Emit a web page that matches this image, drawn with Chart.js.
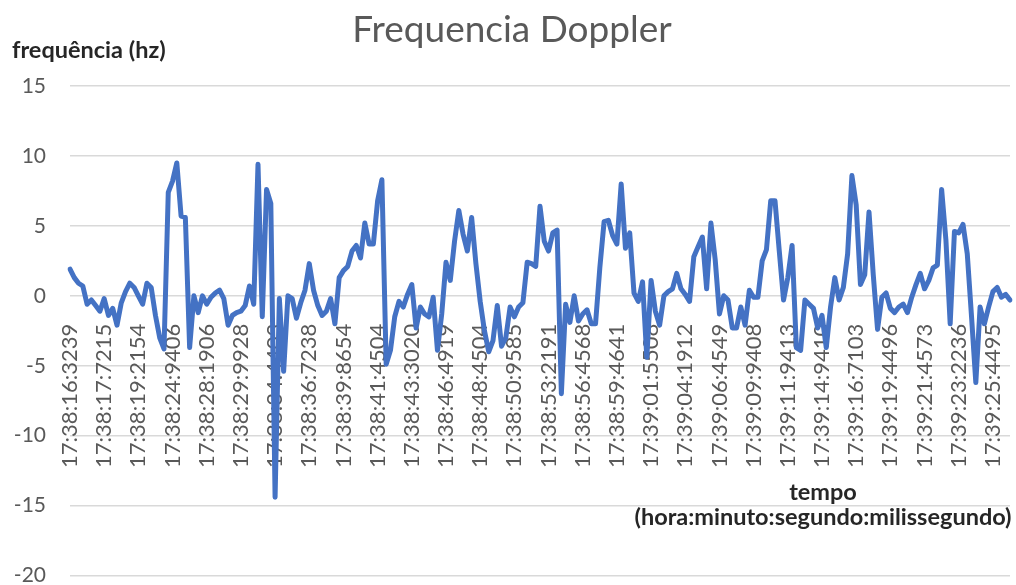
<!DOCTYPE html>
<html>
<head>
<meta charset="utf-8">
<title>Frequencia Doppler</title>
<script src="https://cdn.jsdelivr.net/npm/chart.js@4.4.0/dist/chart.umd.min.js"></script>
<style>
  html, body { margin: 0; padding: 0; background: #fff; }
  #wrap { width: 1016px; height: 585px; position: relative; }
</style>
</head>
<body>
<div id="wrap"><canvas id="dopplerChart"></canvas></div>
<script>
// Doppler frequency readings (hz), one per sample
const TIME_LABELS = [
  '17:38:16:3239', '17:38:17:7215', '17:38:19:2154', '17:38:24:9406', '17:38:28:1906',
  '17:38:29:9928', '17:38:34:4403', '17:38:36:7238', '17:38:39:8654', '17:38:41:4504',
  '17:38:43:3020', '17:38:46:4919', '17:38:48:4504', '17:38:50:9585', '17:38:53:2191',
  '17:38:56:4568', '17:38:59:4641', '17:39:01:5508', '17:39:04:1912', '17:39:06:4549',
  '17:39:09:9408', '17:39:11:9413', '17:39:14:9410', '17:39:16:7103', '17:39:19:4496',
  '17:39:21:4573', '17:39:23:2236', '17:39:25:4495'
];
// one time label is shown for every 8 samples
const SAMPLES_PER_LABEL = 8;

const FREQ_VALUES = [
  1.9, 1.3, 0.9, 0.7, -0.6, -0.3, -0.7, -1.1, -0.2, -1.4,
  -0.9, -2.1, -0.5, 0.3, 0.9, 0.6, 0.0, -0.6, 0.9, 0.6,
  -1.4, -3.0, -3.8, 7.4, 8.2, 9.5, 5.7, 5.6, -3.7, 0.0,
  -1.2, 0.0, -0.6, -0.1, 0.2, 0.4, -0.2, -2.1, -1.4, -1.2,
  -1.1, -0.7, 0.7, -0.6, 9.4, -1.5, 7.6, 6.6, -14.4, -0.2,
  -5.4, 0.0, -0.2, -1.6, -0.5, 0.4, 2.3, 0.4, -0.7, -1.4,
  -1.1, -0.2, -2.0, 1.3, 1.8, 2.1, 3.2, 3.6, 2.7, 5.2,
  3.7, 3.7, 6.8, 8.3, -4.9, -3.9, -1.5, -0.4, -0.8, 0.1,
  0.8, -2.3, -0.8, -1.3, -1.5, -0.1, -3.9, -1.3, 2.4, 1.1,
  3.9, 6.1, 4.4, 3.2, 5.6, 2.3, -0.4, -2.5, -4.0, -3.2,
  -0.7, -3.6, -3.0, -0.8, -1.5, -0.8, -0.5, 2.4, 2.3, 2.1,
  6.4, 3.9, 3.2, 4.5, 4.7, -7.0, -0.6, -1.9, 0.0, -1.8,
  -1.3, -1.0, -2.0, -2.0, 2.0, 5.3, 5.4, 4.3, 3.7, 8.0,
  3.4, 4.5, 0.2, -0.4, 1.0, -4.4, 1.1, -1.1, -2.1, 0.0,
  0.3, 0.5, 1.6, 0.5, 0.1, -0.4, 2.8, 3.5, 4.2, 0.5,
  5.2, 2.6, -1.3, 0.0, -0.3, -2.3, -2.3, -0.8, -2.1, 0.4,
  -0.1, -0.1, 2.5, 3.3, 6.8, 6.8, 3.2, -0.3, 1.3, 3.6,
  -3.7, -3.9, -0.3, -0.6, -0.9, -2.3, -1.4, -3.7, -0.8, 1.3,
  -0.3, 0.6, 3.0, 8.6, 6.5, 0.8, 1.5, 6.0, 1.5, -2.4,
  -0.1, 0.2, -0.9, -1.2, -0.8, -0.6, -1.2, -0.1, 0.8, 1.6,
  0.5, 1.1, 2.0, 2.2, 7.6, 4.0, -2.0, 4.6, 4.5, 5.1,
  3.0, -1.5, -6.2, -0.8, -2.0, -0.8, 0.3, 0.6, -0.1, 0.1,
  -0.3
];

const Y_MIN = -20;
const Y_MAX = 15;
const Y_STEP = 5;

const CHART_TITLE = 'Frequencia Doppler';
const Y_AXIS_NAME = 'frequência (hz)';
const X_AXIS_NAME = ['tempo', '(hora:minuto:segundo:milissegundo)'];

// ─── Axis names (Excel-style, horizontal) ───────────────────────────────────
const axisNames = {
  id: 'axisNames',
  afterDraw(chart) {
    const { ctx } = chart;
    ctx.save();
    ctx.font = 'bold 23.5px Lato';
    ctx.fillStyle = '#262626';
    ctx.textBaseline = 'middle';
    ctx.textAlign = 'left';
    ctx.fillText(Y_AXIS_NAME, 12, 50);
    ctx.textAlign = 'center';
    ctx.fillText(X_AXIS_NAME[0], 823, 492);
    ctx.fillText(X_AXIS_NAME[1], 823, 517);
    ctx.restore();
  }
};

function renderDoppler() {
  const ctx = document.getElementById('dopplerChart');
  // category per sample; only every SAMPLES_PER_LABEL-th sample carries a time
  const labels = FREQ_VALUES.map((_, i) =>
    i % SAMPLES_PER_LABEL === 0 ? (TIME_LABELS[i / SAMPLES_PER_LABEL] || '') : '');

  Chart.defaults.font.family = 'Lato, "Open Sans", sans-serif';

  new Chart(ctx, {
    type: 'line',
    data: {
      labels,
      datasets: [{
        label: 'frequência',
        data: FREQ_VALUES,
        borderColor: '#4472C4',
        borderWidth: 5,
        pointRadius: 0,
        tension: 0,
        borderJoinStyle: 'round',
        borderCapStyle: 'round',
      }],
    },
    options: {
      responsive: true,
      maintainAspectRatio: false,
      animation: false,
      devicePixelRatio: 1,
      layout: { padding: { top: 8, left: 14, right: 6, bottom: 0 } },
      plugins: {
        legend: { display: false },
        tooltip: { enabled: false },
        title: {
          display: true,
          text: CHART_TITLE,
          color: '#595959',
          font: { size: 37, weight: 'normal' },
          padding: { top: 0, bottom: 33.6 },
        },
      },
      scales: {
        x: {
          position: { y: 0 },
          offset: false,
          border: { display: false },
          grid: { display: false, drawTicks: true, tickLength: 18 },
          ticks: {
            autoSkip: false,
            minRotation: 90,
            maxRotation: 90,
            padding: 10,
            color: '#595959',
            font: { size: 22 },
            callback(value, index) { return labels[index] || null; },
          },
          afterFit(scale) {
            scale.paddingLeft = 0;
            scale.paddingRight = 0;
          },
        },
        y: {
          min: Y_MIN,
          max: Y_MAX,
          border: { display: false },
          grid: {
            color: '#d9d9d9',
            lineWidth: 1.5,
            drawTicks: true,
            tickLength: 24,
            tickColor: 'rgba(0,0,0,0)',
          },
          ticks: {
            stepSize: Y_STEP,
            padding: 0,
            color: '#595959',
            font: { size: 21, lineHeight: 0.9 },
          },
          afterFit(scale) {
            scale.width = 56;
          },
        },
      },
    },
    plugins: [axisNames],
  });
}

renderDoppler();
</script>
</body>
</html>
